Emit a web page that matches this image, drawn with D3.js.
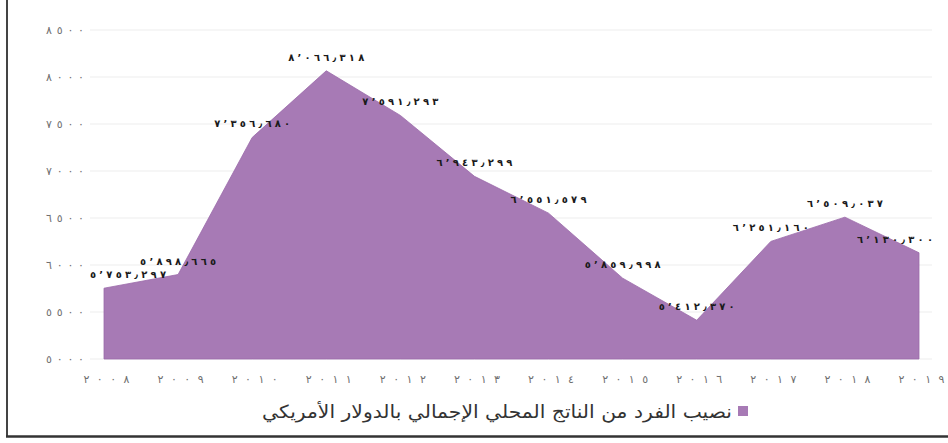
<!DOCTYPE html>
<html lang="ar">
<head>
<meta charset="utf-8">
<script src="https://cdn.jsdelivr.net/npm/d3@7/dist/d3.min.js"></script>
<style>
  html, body { margin: 0; padding: 0; background: #fff; }
  svg { display: block; }
</style>
</head>
<body>
<svg id="chart" width="948" height="443"></svg>
<script>
// Per-capita GDP in US dollars, 2008–2019
const years = [2008, 2009, 2010, 2011, 2012, 2013, 2014, 2015, 2016, 2017, 2018, 2019];
const values = [5753.297, 5898.665, 7356.680, 8066.318, 7591.293, 6943.299, 6551.579, 5859.998, 5412.370, 6251.160, 6509.037, 6130.300];
const yTicks = [5000, 5500, 6000, 6500, 7000, 7500, 8000, 8500];
const seriesName = "نصيب الفرد من الناتج المحلي الإجمالي بالدولار الأمريكي";

const areaColor = "#a77ab5";
const arabicDigits = "٠١٢٣٤٥٦٧٨٩";
const toArabic = s => String(s).replace(/[0-9]/g, d => arabicDigits[+d]);
const fmtValue = v => {
  const [intPart, dec] = v.toFixed(3).split(".");
  const grouped = intPart.replace(/\B(?=(\d{3})+(?!\d))/g, "٬");
  return toArabic(grouped + "٫" + dec);
};

const svg = d3.select("#chart");

const x = d3.scalePoint().domain(years).range([104, 919]);
const y = d3.scaleLinear().domain([5000, 8500]).range([359, 30]);

// Horizontal gridlines
svg.append("g")
  .selectAll("line")
  .data(yTicks)
  .join("line")
  .attr("x1", 90).attr("x2", 932)
  .attr("y1", d => y(d)).attr("y2", d => y(d))
  .attr("stroke", "#ededed")
  .attr("stroke-width", 1);

// Filled area down to the axis minimum
const area = d3.area()
  .x((d, i) => x(years[i]))
  .y0(y(5000))
  .y1(d => y(d));

svg.append("path")
  .datum(values)
  .attr("d", area)
  .attr("fill", areaColor)
  .attr("stroke", "#9a6aa9")
  .attr("stroke-width", 0.8);

// Y axis labels (digits spread out)
const yAxis = d3.axisLeft(y).tickValues(yTicks).tickSize(0).tickPadding(0)
  .tickFormat(d => toArabic(d));
const gy = svg.append("g").attr("transform", "translate(84,0)").call(yAxis);
gy.select(".domain").remove();
gy.selectAll("text")
  .attr("fill", "#6f6f6f")
  .attr("textLength", 38)
  .attr("lengthAdjust", "spacing")
  .style("font-family", "DejaVu Sans, sans-serif")
  .style("font-size", "11px");

// X axis labels
const xAxis = d3.axisBottom(x).tickSize(0).tickPadding(0).tickFormat(d => toArabic(d));
const gx = svg.append("g").attr("transform", "translate(2,375)").call(xAxis);
gx.select(".domain").remove();
gx.selectAll("text")
  .attr("fill", "#6f6f6f")
  .attr("textLength", 46)
  .attr("lengthAdjust", "spacing")
  .style("font-family", "DejaVu Sans, sans-serif")
  .style("font-size", "11px");

// Data labels above each point, kept inside the plot
const labelW = 76;
svg.append("g")
  .selectAll("text")
  .data(values)
  .join("text")
  .attr("x", (d, i) => Math.max(90 + labelW / 2, Math.min(933 - labelW / 2, x(years[i]))))
  .attr("y", d => y(d) - 10)
  .attr("text-anchor", "middle")
  .attr("direction", "ltr")
  .attr("textLength", labelW)
  .attr("lengthAdjust", "spacing")
  .attr("fill", "#1a1a1a")
  .style("font-family", "DejaVu Sans, sans-serif")
  .style("font-size", "10px")
  .style("font-weight", "bold")
  .text(d => fmtValue(d));

// Legend: swatch on the right, Arabic text to its left
svg.append("rect")
  .attr("x", 738).attr("y", 406)
  .attr("width", 10).attr("height", 10)
  .attr("fill", areaColor);

svg.append("text")
  .attr("x", 732).attr("y", 418)
  .attr("text-anchor", "end")
  .attr("textLength", 470)
  .attr("lengthAdjust", "spacingAndGlyphs")
  .attr("fill", "#333")
  .style("font-family", "DejaVu Sans, sans-serif")
  .style("font-size", "18px")
  .text(seriesName);

// Frame lines
svg.append("line")
  .attr("x1", 7).attr("x2", 7).attr("y1", 0).attr("y2", 437)
  .attr("stroke", "#444").attr("stroke-width", 2);
svg.append("line")
  .attr("x1", 6).attr("x2", 948).attr("y1", 436.5).attr("y2", 436.5)
  .attr("stroke", "#333").attr("stroke-width", 2.5);
</script>
</body>
</html>
